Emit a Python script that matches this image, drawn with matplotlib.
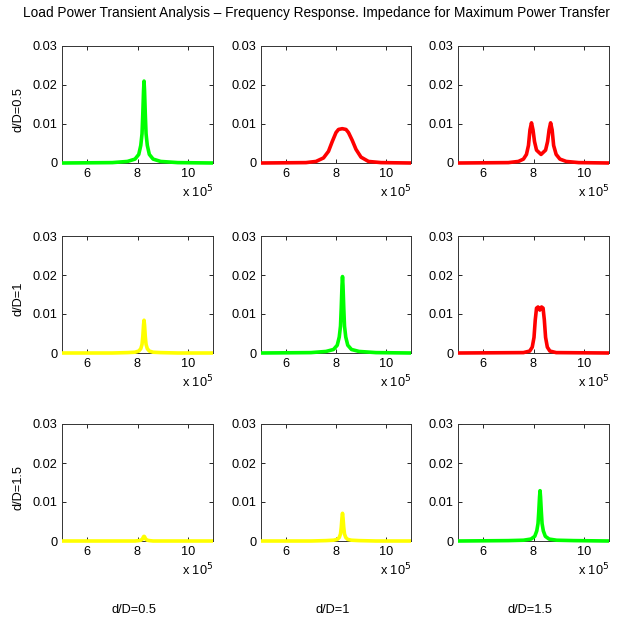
import matplotlib
matplotlib.use("Agg")
from matplotlib import pyplot as plt
from matplotlib.ticker import FuncFormatter

plt.rcParams['font.family'] = ['Liberation Sans', 'DejaVu Sans']

# frequency in units of 10^5 Hz
freq_single = [5.0, 7.0, 7.6, 7.9, 8.05, 8.13, 8.18, 8.21, 8.24, 8.26,
               8.28, 8.31, 8.34, 8.39, 8.47, 8.62, 8.92, 9.6, 11.0]

# load power, one peak around 8.26e5 Hz
p_05_05 = [0, 0.0001, 0.0004, 0.001, 0.0022, 0.0045, 0.0075, 0.0125, 0.0185, 0.021,
           0.0185, 0.0125, 0.0075, 0.0045, 0.0022, 0.001, 0.0004, 0.0001, 0]
p_1_05 = [0, 0, 0.0001, 0.0002, 0.0005, 0.0011, 0.0022, 0.0042, 0.0072, 0.0084,
          0.0072, 0.0042, 0.0022, 0.0011, 0.0005, 0.0002, 0.0001, 0, 0]
p_1_1 = [0, 0.0001, 0.0004, 0.0009, 0.002, 0.0041, 0.0069, 0.0116, 0.0173, 0.0196,
         0.0173, 0.0116, 0.0069, 0.0041, 0.002, 0.0009, 0.0004, 0.0001, 0]
p_15_05 = [0, 0, 0, 0, 0.0001, 0.0002, 0.0004, 0.0007, 0.0011, 0.0012,
           0.0011, 0.0007, 0.0004, 0.0002, 0.0001, 0, 0, 0, 0]
p_15_1 = [0, 0, 0.0001, 0.0002, 0.0004, 0.0009, 0.0018, 0.0035, 0.006, 0.0071,
          0.006, 0.0035, 0.0018, 0.0009, 0.0004, 0.0002, 0.0001, 0, 0]
p_15_15 = [0, 0.0001, 0.0002, 0.0005, 0.0012, 0.0026, 0.0045, 0.0076, 0.0113, 0.0129,
           0.0113, 0.0076, 0.0045, 0.0026, 0.0012, 0.0005, 0.0002, 0.0001, 0]

# wide single bump
freq_05_1 = [5.0, 6.8, 7.2, 7.5, 7.7, 7.85, 8.0, 8.1, 8.25, 8.4, 8.5, 8.65,
             8.8, 9.0, 9.3, 9.8, 11.0]
p_05_1 = [0, 0.0001, 0.0004, 0.0013, 0.003, 0.0055, 0.0078, 0.0086, 0.0088,
          0.0086, 0.0078, 0.0058, 0.0035, 0.0015, 0.0004, 0.0001, 0]

# split peaks (over-coupled)
freq_05_15 = [5.0, 7.0, 7.4, 7.6, 7.72, 7.8, 7.86, 7.92, 7.98, 8.04, 8.12, 8.3,
              8.48, 8.56, 8.62, 8.68, 8.74, 8.8, 8.9, 9.05, 9.3, 9.8, 11.0]
p_05_15 = [0, 0.0001, 0.0004, 0.001, 0.0022, 0.0045, 0.0085, 0.0103, 0.0085,
           0.0055, 0.0033, 0.0022, 0.0033, 0.0055, 0.0085, 0.0103, 0.0085,
           0.0045, 0.0022, 0.001, 0.0004, 0.0001, 0]

freq_1_15 = [5.0, 7.6, 7.85, 7.95, 8.02, 8.07, 8.12, 8.18, 8.25, 8.32, 8.38,
             8.43, 8.48, 8.55, 8.65, 8.9, 11.0]
p_1_15 = [0, 0.0001, 0.0005, 0.0015, 0.004, 0.0085, 0.0115, 0.0118, 0.0110,
          0.0118, 0.0115, 0.0085, 0.004, 0.0015, 0.0005, 0.0001, 0]

row_labels = ['d/D=0.5', 'd/D=1', 'd/D=1.5']
col_labels = ['d/D=0.5', 'd/D=1', 'd/D=1.5']

GREEN = '#00ff00'
RED = '#ff0000'
YELLOW = '#ffff00'

panels = [
    [(freq_single, p_05_05, GREEN), (freq_05_1, p_05_1, RED), (freq_05_15, p_05_15, RED)],
    [(freq_single, p_1_05, YELLOW), (freq_single, p_1_1, GREEN), (freq_1_15, p_1_15, RED)],
    [(freq_single, p_15_05, YELLOW), (freq_single, p_15_1, YELLOW), (freq_single, p_15_15, GREEN)],
]

fig = plt.figure(figsize=(6.23, 6.23), dpi=100)

lefts = [62, 261, 458]
widths = [151, 150, 151]
tops = [46, 236, 424]
H = 117
W_PX = 623.0
FS = 9.2

fmt = FuncFormatter(lambda v, pos: '%g' % v)

for r in range(3):
    for c in range(3):
        ax = fig.add_axes([lefts[c] / W_PX, 1 - (tops[r] + H) / W_PX,
                           widths[c] / W_PX, H / W_PX])
        x, y, col = panels[r][c]
        ax.plot(x, y, color=col, lw=2.6, zorder=3, clip_on=False,
                solid_capstyle='butt')
        ax.set_xlim(5, 11)
        ax.set_ylim(0, 0.03)
        ax.set_xticks([6, 8, 10])
        ax.set_yticks([0, 0.01, 0.02, 0.03])
        ax.xaxis.set_major_formatter(fmt)
        ax.yaxis.set_major_formatter(fmt)
        ax.tick_params(direction='in', top=True, right=True, length=3,
                       width=0.6, labelsize=FS, pad=3.5)
        for s in ax.spines.values():
            s.set_linewidth(0.7)
            s.set_color('#333333')
        ax.text(1.0, -0.245, r'x 10$^5$', transform=ax.transAxes,
                ha='right', va='center', fontsize=FS)
        if c == 0:
            ax.set_ylabel(row_labels[r], fontsize=FS)
            ax.yaxis.set_label_coords(-0.25, 0.46)

for c in range(3):
    fig.text((lefts[c] + widths[c] / 2 - 3) / W_PX, 1 - 610 / W_PX, col_labels[c],
             ha='center', va='center', fontsize=FS)

fig.text(23 / W_PX, 1 - 13 / W_PX,
         'Load Power Transient Analysis \u2013 Frequency Response. '
         'Impedance for Maximum Power Transfer',
         ha='left', va='center', fontsize=9.85)

fig.savefig('out.png', dpi=100)
